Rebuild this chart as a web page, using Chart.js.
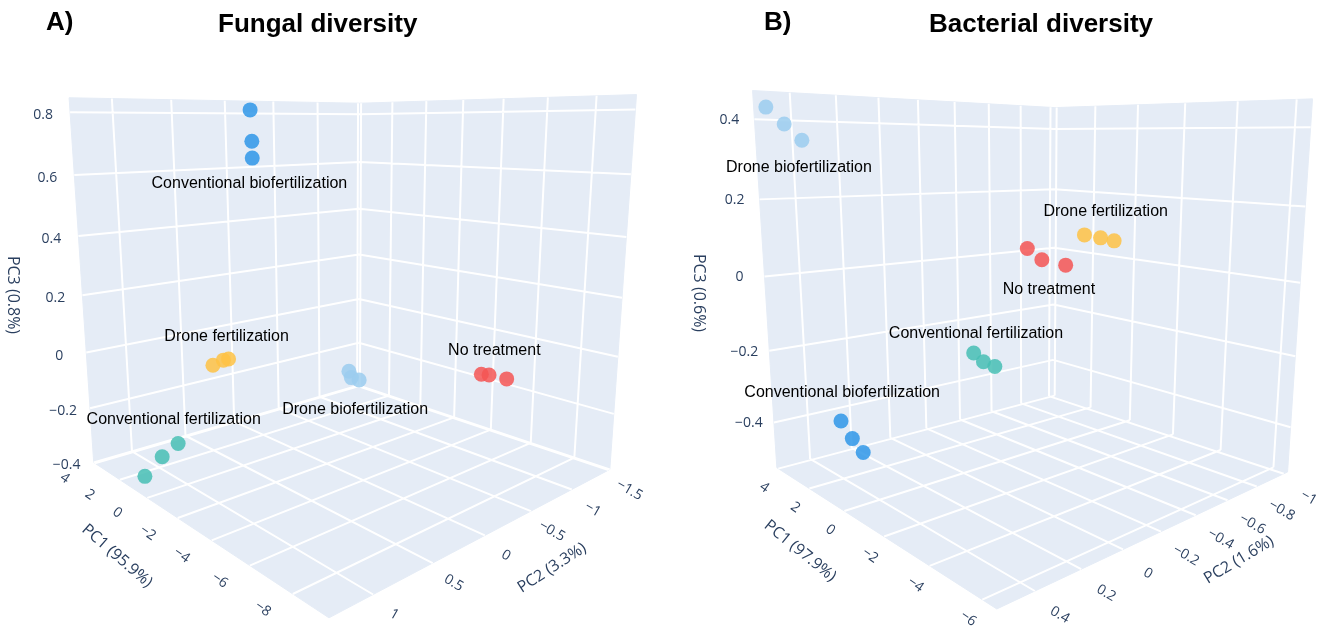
<!DOCTYPE html>
<html><head><meta charset="utf-8">
<script src="https://cdn.jsdelivr.net/npm/chart.js@4.4.1/dist/chart.umd.min.js"></script>
<style>
html,body{margin:0;padding:0;background:#fff;width:1325px;height:637px;overflow:hidden}
#wrap{position:relative;width:1325px;height:637px}
canvas{position:absolute;left:0;top:0}
.t{position:absolute;font-family:"Liberation Sans",Arial,sans-serif;font-weight:bold;font-size:26px;color:#000;white-space:nowrap;line-height:1}
</style></head>
<body><div id="wrap"><canvas id="c" width="1325" height="637"></canvas>
<div class="t" style="left:46px;top:8px">A)</div>
<div class="t" style="left:218px;top:10px">Fungal diversity</div>
<div class="t" style="left:764px;top:8px">B)</div>
<div class="t" style="left:929px;top:10px">Bacterial diversity</div>
</div>
<script>
// ---------------- DATA ----------------
const groups = ["Conventional biofertilization","Drone fertilization","Conventional fertilization","Drone biofertilization","No treatment"];

// Fungal diversity (panel A) - one inner array per group, three replicates each
const fungalPC1 = [[2.6,2.6,2.6],[2.0,2.0,2.0],[1.2,1.2,1.2],[2.0,2.0,2.0],[-8.8,-8.8,-8.8]];
const fungalPC2 = [[-0.03,-0.04,-0.04],[0.48,0.38,0.33],[0.92,1.06,1.21],[-0.99,-1.02,-1.12],[-0.09,-0.17,-0.36]];
const fungalPC3 = [[0.81,0.70,0.64],[-0.08,-0.07,-0.07],[-0.30,-0.33,-0.38],[-0.24,-0.27,-0.29],[0.06,0.05,0.02]];
const fungalTicksPC1 = [4,2,0,-2,-4,-6,-8];
const fungalTicksPC2 = [1,0.5,0,-0.5,-1,-1.5];
const fungalTicksPC3 = [0.8,0.6,0.4,0.2,0,-0.2,-0.4];
const fungalRangePC1 = [-9.5,4.1];
const fungalRangePC2 = [-1.52,1.33];
const fungalRangePC3 = [-0.40,0.845];
const fungalAxisTitles = ["PC1 (95.9%)","PC2 (3.3%)","PC3 (0.8%)"];

// Bacterial diversity (panel B)
const bacterialPC1 = [[3.5,3.5,3.5],[-4.5,-4.5,-4.5],[0,0,0],[3.8,3.8,3.8],[-3,-3,-3]];
const bacterialPC2 = [[0.29,0.24,0.19],[-0.07,-0.15,-0.22],[-0.06,-0.11,-0.17],[0.52,0.45,0.38],[0.01,-0.06,-0.18]];
const bacterialPC3 = [[-0.42,-0.48,-0.53],[0.15,0.14,0.13],[-0.20,-0.23,-0.25],[0.43,0.39,0.35],[0.11,0.08,0.06]];
const bacterialTicksPC1 = [4,2,0,-2,-4,-6];
const bacterialTicksPC2 = [0.4,0.2,0,-0.2,-0.4,-0.6,-0.8,-1];
const bacterialTicksPC3 = [0.4,0.2,0,-0.2,-0.4];
const bacterialRangePC1 = [-6.5,4.1];
const bacterialRangePC2 = [-1.03,0.55];
const bacterialRangePC3 = [-0.53,0.47];
const bacterialAxisTitles = ["PC1 (97.9%)","PC2 (1.6%)","PC3 (0.6%)"];

// ---------------- STYLE / LAYOUT ----------------
const groupColors = ['rgba(47,150,231,0.85)','rgba(254,194,68,0.85)','rgba(71,190,180,0.85)','rgba(155,205,239,0.85)','rgba(244,85,84,0.85)'];
const W = 1325, H = 637, S = 500;
// cube corners in normalised axis space (PC1, PC2, PC3 each 0..1) and where the scene box sits on the page
const cornerCube = {L:[1,1,0], Ltop:[1,1,1], B:[1,0,0], Btop:[1,0,1], R:[0,0,0], Rtop:[0,0,1], F:[0,1,0]};
const layoutA = {
  corners:{L:[88,465], Ltop:[63,92], B:[355,389], Btop:[355,97], R:[610,470], Rtop:[637,91], F:[323,627]},
  tickOffset:{pc1:[-30,15], pc2:[21,20], pc3:[-27,3]},
  tickRot:{pc1:35, pc2:30, pc3:0},
  titlePos:[[117,556,41],[552,568,-33],[13,295,90]],
  labelOffset:[[-2,47],[5,-25],[12,-39],[2,33],[2,-25]]
};
const layoutB = {
  corners:{L:[773,466], Ltop:[752,90], B:[1060,397], Btop:[1062,103], R:[1290,480], Rtop:[1318,88], F:[1010,617]},
  tickOffset:{pc1:[-14,19], pc2:[25,24], pc3:[-25,1]},
  tickRot:{pc1:35, pc2:30, pc3:0},
  titlePos:[[800,551,39],[1239,560,-31],[699,293,90]],
  labelOffset:[[-10,-45],[6,-26],[-8,-27],[15,44],[4,32]]
};

// ---------------- PROJECTION (perspective fitted to the scene box) ----------------
function fitProjection(corners){
  const rows=[], rhs=[];
  for (const k in corners){
    const [a,b,c] = cornerCube[k]; const u = corners[k][0]/S, v = corners[k][1]/S;
    rows.push([a,b,c,1,0,0,0,0,-u*a,-u*b,-u*c]); rhs.push(u);
    rows.push([0,0,0,0,a,b,c,1,-v*a,-v*b,-v*c]); rhs.push(v);
  }
  const n=11; const M = Array.from({length:n},()=>new Array(n+1).fill(0));
  rows.forEach((r,i)=>{ for(let p=0;p<n;p++){ for(let q=0;q<n;q++) M[p][q]+=r[p]*r[q]; M[p][n]+=r[p]*rhs[i]; } });
  for (let col=0;col<n;col++){
    let piv=col; for(let r=col+1;r<n;r++) if(Math.abs(M[r][col])>Math.abs(M[piv][col])) piv=r;
    const tmp=M[col]; M[col]=M[piv]; M[piv]=tmp;
    for(let r=0;r<n;r++){ if(r===col) continue; const f=M[r][col]/M[col][col]; for(let k=col;k<=n;k++) M[r][k]-=f*M[col][k]; }
  }
  return M.map((r,i)=>r[n]/r[i]);
}
function projectN(P,a,b,c){
  const w = P[8]*a+P[9]*b+P[10]*c+1;
  return {x:S*(P[0]*a+P[1]*b+P[2]*c+P[3])/w, y:S*(P[4]*a+P[5]*b+P[6]*c+P[7])/w};
}
const norm=(v,r)=>(v-r[0])/(r[1]-r[0]);
const fmt=v=>(v<0?'\u2212':'')+Math.abs(v);

function buildPanel(d, lay){
  const P = fitProjection(lay.corners);
  const p3 = (a,b,c)=>projectN(P,a,b,c);
  const pc = (x1,x2,x3)=>projectN(P,norm(x1,d.r1),norm(x2,d.r2),norm(x3,d.r3));
  const walls = [[1,1,0],[0,1,0],[0,0,0],[0,0,1],[1,0,1],[1,1,1],[1,1,0]].map(q=>p3(...q));
  const grid = [];
  const seg=(q1,q2)=>{grid.push(p3(...q1),p3(...q2),{x:null,y:null});};
  const inR=(v,r)=>v>=r[0]-1e-9&&v<=r[1]+1e-9;
  d.t1.filter(t=>inR(t,d.r1)).forEach(t=>{const a=norm(t,d.r1); seg([a,0,0],[a,1,0]); seg([a,0,0],[a,0,1]);});
  d.t2.filter(t=>inR(t,d.r2)).forEach(t=>{const b=norm(t,d.r2); seg([0,b,0],[1,b,0]); seg([1,b,0],[1,b,1]);});
  d.t3.filter(t=>inR(t,d.r3)).forEach(t=>{const c=norm(t,d.r3); seg([1,0,c],[1,1,c]); seg([0,0,c],[1,0,c]);});
  const pts = d.pc1.map((g,gi)=>g.map((v,i)=>pc(v,d.pc2[gi][i],d.pc3[gi][i])));
  return {P,p3,pc,walls,grid,pts,d,lay};
}

const panels = [
  buildPanel({pc1:fungalPC1,pc2:fungalPC2,pc3:fungalPC3,t1:fungalTicksPC1,t2:fungalTicksPC2,t3:fungalTicksPC3,r1:fungalRangePC1,r2:fungalRangePC2,r3:fungalRangePC3,titles:fungalAxisTitles}, layoutA),
  buildPanel({pc1:bacterialPC1,pc2:bacterialPC2,pc3:bacterialPC3,t1:bacterialTicksPC1,t2:bacterialTicksPC2,t3:bacterialTicksPC3,r1:bacterialRangePC1,r2:bacterialRangePC2,r3:bacterialRangePC3,titles:bacterialAxisTitles}, layoutB)
];

const datasets = [];
panels.forEach(pn=>{
  datasets.push({type:'line', data:pn.walls, showLine:true, fill:'shape', backgroundColor:'#E5ECF6', borderColor:'#E5ECF6', borderWidth:1, pointRadius:0, tension:0, order:30});
  datasets.push({type:'line', data:pn.grid, showLine:true, fill:false, borderColor:'#ffffff', borderWidth:2, pointRadius:0, spanGaps:false, tension:0, order:20});
  pn.pts.forEach((g,gi)=>{
    datasets.push({type:'scatter', label:groups[gi], data:g, backgroundColor:groupColors[gi], borderWidth:0, pointRadius:7.5, order:1});
  });
});

function drawText(ctx,txt,x,y,rot,font,color){
  ctx.save(); ctx.translate(x,y); ctx.rotate(rot*Math.PI/180);
  ctx.font=font; ctx.fillStyle=color; ctx.textAlign='center'; ctx.textBaseline='middle';
  ctx.fillText(txt,0,0); ctx.restore();
}
const textPlugin = {
  id:'texts3d',
  afterDatasetsDraw(chart){
    const ctx=chart.ctx, xs=chart.scales.x, ys=chart.scales.y;
    const X=v=>xs.getPixelForValue(v), Y=v=>ys.getPixelForValue(v);
    const tickFont='14px "Open Sans", sans-serif', tickCol='#2a3f5f';
    panels.forEach(pn=>{
      const d=pn.d, lay=pn.lay;
      d.t1.forEach(t=>{const q=pn.p3(norm(t,d.r1),1,0); drawText(ctx,fmt(t),X(q.x)+lay.tickOffset.pc1[0],Y(q.y)+lay.tickOffset.pc1[1],lay.tickRot.pc1,tickFont,tickCol);});
      d.t2.forEach(t=>{const q=pn.p3(0,norm(t,d.r2),0); drawText(ctx,fmt(t),X(q.x)+lay.tickOffset.pc2[0],Y(q.y)+lay.tickOffset.pc2[1],lay.tickRot.pc2,tickFont,tickCol);});
      d.t3.forEach(t=>{const q=pn.p3(1,1,norm(t,d.r3)); drawText(ctx,fmt(t),X(q.x)+lay.tickOffset.pc3[0],Y(q.y)+lay.tickOffset.pc3[1],lay.tickRot.pc3,tickFont,tickCol);});
      d.titles.forEach((tt,i)=>{const p=lay.titlePos[i]; drawText(ctx,tt,p[0],p[1],p[2],'16px "Open Sans", sans-serif',tickCol);});
      pn.pts.forEach((g,gi)=>{
        const cx=g.reduce((s,p)=>s+p.x,0)/g.length, cy=g.reduce((s,p)=>s+p.y,0)/g.length;
        const o=lay.labelOffset[gi];
        drawText(ctx,groups[gi],X(cx)+o[0],Y(cy)+o[1],0,'16px "Liberation Sans", Arial, sans-serif','#000');
      });
    });
  }
};

new Chart(document.getElementById('c'),{
  type:'scatter',
  data:{datasets},
  options:{
    responsive:false, animation:false, devicePixelRatio:1, events:[],
    layout:{padding:0},
    plugins:{legend:{display:false}, tooltip:{enabled:false}, title:{display:false}},
    scales:{
      x:{type:'linear', min:0, max:W, display:false},
      y:{type:'linear', min:0, max:H, reverse:true, display:false}
    }
  },
  plugins:[textPlugin]
});
</script></body></html>
